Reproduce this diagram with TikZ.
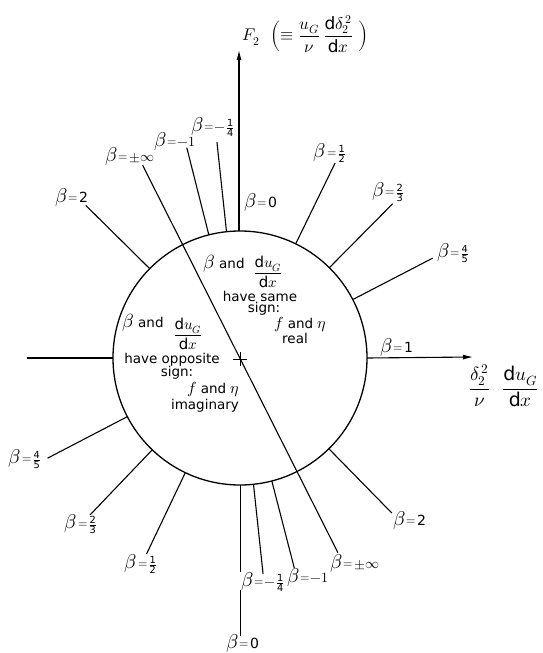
\documentclass[tikz,border=0pt]{standalone}
\usepackage{amsmath}
\usepackage{fontspec}
\usepackage{unicode-math}
\setmainfont{DejaVu Sans}
\setmathfont{Latin Modern Math}
\usetikzlibrary{arrows.meta,calc}
\tikzset{
  ray/.style={line width=1.1pt},
  axisline/.style={line width=1.1pt},
  tip/.style={-{Latex[length=10pt,width=5pt]}},
  lab/.style={inner sep=0pt, font=\fontsize{14}{16}\selectfont},
  txt/.style={inner sep=0pt, font=\fontsize{13.5}{16}\selectfont},
  frc/.style={inner sep=0pt, font=\fontsize{15}{17}\selectfont},
}
\newcommand\blab[1]{{\fontsize{20}{20}\selectfont$\beta$}\kern1pt\raisebox{1pt}{\fontsize{12}{12}\selectfont$=$}\kern1pt{\fontsize{14}{14}\selectfont$#1$}}
\newcommand\fr[2]{\frac{\text{#1}}{\text{#2}}}
\newcommand\bigmath[1]{{\fontsize{19}{19}\selectfont$#1$}}
\newcommand\midmath[1]{{\fontsize{16}{16}\selectfont$#1$}}
\begin{document}
\begin{tikzpicture}[x=1pt,y=-1pt]
\useasboundingbox (0,0) rectangle (542,653);
\coordinate (C) at (240,358);
\draw[line width=1.3pt] (C) circle[radius=127pt];

% rays (diameters) outside the circle
\begin{scope}[shift={(C)}, y=1pt]
\foreach \a [count=\i] in {104.2,96.1,64,45.3,27.4,135.3,-45.6,207.5,226.3,244.5,-83.9,-75.5}{
  \coordinate (in\i) at (\a:127);
  \coordinate (out\i) at (\a:217);
  \draw[ray] (in\i) -- (out\i);
}
\coordinate (infA) at (116.8:216);
\coordinate (infB) at (-63.3:218);
\draw[ray] (infA) -- (infB);
\end{scope}

% axes
\coordinate (ytop) at (239,231);
\coordinate (ytip) at (239,50);
\draw[axisline,tip] (ytop) -- (ytip);
\coordinate (yb1) at (240.5,485);
\coordinate (yb2) at (240.5,572);
\coordinate (yb3) at (240.5,590);
\coordinate (yb4) at (240.5,636);
\draw[axisline] (yb1) -- (yb2);
\draw[axisline] (yb3) -- (yb4);
\coordinate (xl) at (27,358);
\coordinate (xlc) at (113,358);
\draw[axisline] (xl) -- (xlc);
\coordinate (xrc) at (367,358);
\coordinate (xtip) at (473,357);
\draw[axisline,tip] (xrc) -- (xtip);

% centre cross
\draw[line width=1pt] (233,359) -- (247,359) (240,352) -- (240,366);

% axis labels
\node[inner sep=0pt, font=\fontsize{17}{19}\selectfont, anchor=west] (F2) at (242,34)
  {$F_2\ \ \Bigl(\equiv\dfrac{u_G}{\nu}\,\dfrac{\mathrm{d}\delta_2^{\,2}}{\mathrm{d}x}\ \Bigr)$};
\node[inner sep=0pt, font=\fontsize{19}{21}\selectfont, anchor=west] (xlab) at (469,386)
  {$\dfrac{\delta_2^{\,2}}{\nu}\ \ \dfrac{\mathrm{d}u_G}{\mathrm{d}x}$};

% beta labels
\node[lab] (bm1t) at (175,141) {\blab{-1}};
\node[lab] (bmqt) at (213,127) {\blab{-\fr{1}{4}}};
\node[lab] (b0t)  at (261,202) {\blab{\text{0}}};
\node[lab] (bht)  at (330,153) {\blab{\fr{1}{2}}};
\node[lab] (bttt) at (388,192) {\blab{\fr{2}{3}}};
\node[lab] (bfft) at (453,253) {\blab{\fr{4}{5}}};
\node[lab] (b1)   at (397,347) {\blab{\text{1}}};
\node[lab] (b2t)  at (72,197)  {\blab{\text{2}}};
\node[lab] (binft) at (130,156) {\blab{\pm\infty}};
\node[lab] (bffb) at (25,459)  {\blab{\fr{4}{5}}};
\node[lab] (bttb) at (81,524)  {\blab{\fr{2}{3}}};
\node[lab] (bhb)  at (141,564) {\blab{\fr{1}{2}}};
\node[lab] (bmqb) at (263,582) {\blab{-\fr{1}{4}}};
\node[lab] (bm1b) at (308,577) {\blab{-1}};
\node[lab] (binfb) at (355,563) {\blab{\pm\infty}};
\node[lab] (b2b)  at (410,520) {\blab{\text{2}}};
\node[lab] (b0b)  at (243,643) {\blab{\text{0}}};

% text inside upper-right half
\node[txt] (sA1) at (224,264) {\bigmath{\beta} and};
\node[frc] (sA2) at (268,272) {$\dfrac{\mathrm{d}u_G}{\mathrm{d}x}$};
\node[txt] (sA3) at (260,296) {have same};
\node[txt] (sA4) at (264,309) {sign:};
\node[txt] (sA5) at (300,325) {\midmath{f} and \midmath{\eta}};
\node[txt] (sA6) at (295,338) {real};

% text inside left half
\node[txt] (oA1) at (143,323) {\bigmath{\beta} and};
\node[frc] (oA2) at (188,334) {$\dfrac{\mathrm{d}u_G}{\mathrm{d}x}$};
\node[txt] (oA3) at (172,360) {have opposite};
\node[txt] (oA4) at (177,373) {sign:};
\node[txt] (oA5) at (213,390) {\midmath{f} and \midmath{\eta}};
\node[txt] (oA6) at (205,406) {imaginary};
\end{tikzpicture}
\end{document}
